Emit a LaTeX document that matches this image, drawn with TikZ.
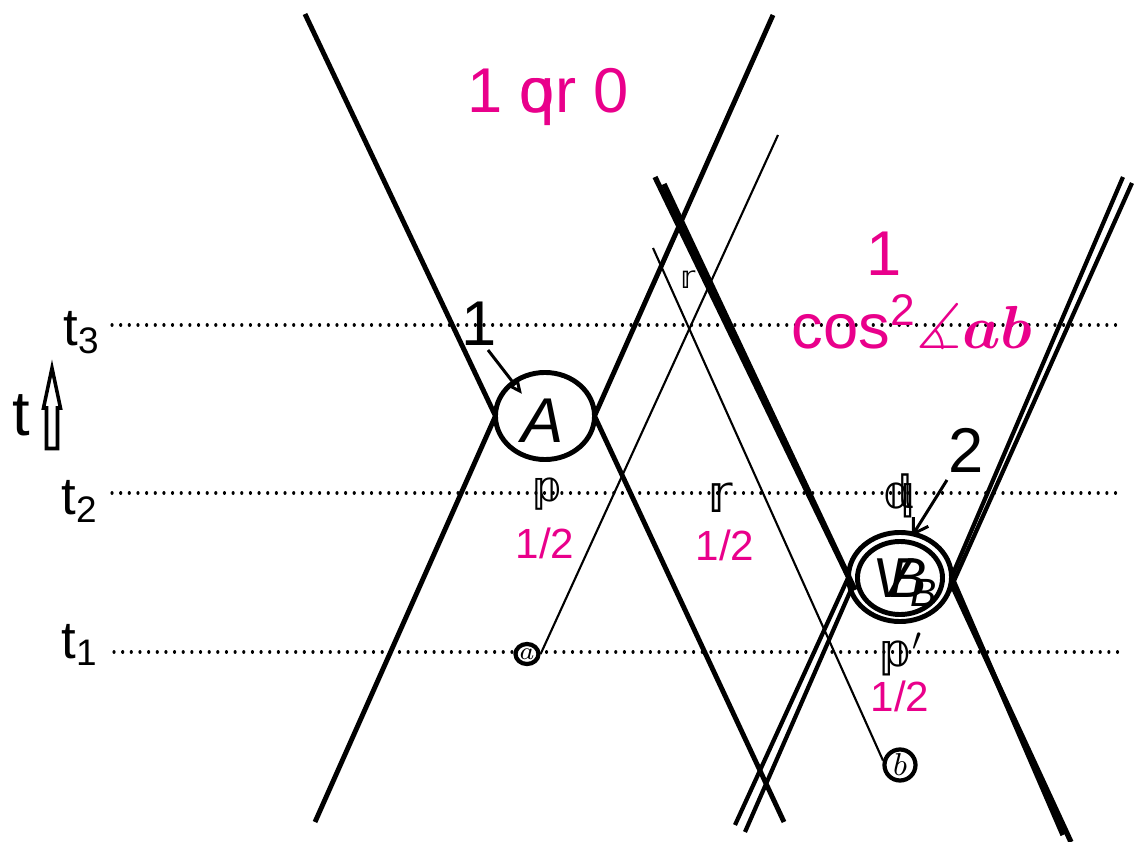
\documentclass[tikz,border=0pt]{standalone}
\usepackage{amsmath}
\usepackage{amssymb}
\usepackage{bm}
\usepackage{fontspec}
\setmainfont{Liberation Sans}
\newfontfamily\dsfont{DejaVu Sans}
\usepackage{tikz}
\usetikzlibrary{shapes.geometric, arrows.meta, positioning}
\usepackage{xcolor}
\definecolor{prob}{RGB}{233,0,139}

\tikzset{
  worldline/.style={line width=1.4pt},
  heavyline/.style={line width=1.5pt},
  twinline/.style={line width=1.2pt},
  ray/.style={line width=0.6pt},
  timeline/.style={line width=0.9pt, dash pattern=on 0.01pt off 2.45pt, line cap=round},
  event/.style={ellipse, draw, line width=1.4pt, inner sep=0pt, outer sep=0pt},
  source/.style={circle, draw, line width=1.2pt, inner sep=0pt, fill=white},
  bigtxt/.style={font=\fontsize{18}{20}\selectfont, anchor=base, inner sep=0pt},
  timetxt/.style={font=\fontsize{15}{17}\selectfont, anchor=base, inner sep=0pt},
  half/.style={text=prob, font=\fontsize{12}{14}\selectfont, anchor=base, inner sep=0pt},
  chan/.style={anchor=base, inner sep=0pt},
  pointer/.style={line width=0.85pt}
}

\begin{document}
\begin{tikzpicture}[x=0.01cm, y=-0.01cm]
    \useasboundingbox (0,0) rectangle (1144,842);

    % time slices
    \draw[timeline] (112,325) -- (1118,325);
    \draw[timeline] (112,493) -- (1118,493);
    \draw[timeline] (114,652) -- (1118,652);
    \node[timetxt] (t3) at (82,345) {t\textsubscript{3}};
    \node[timetxt] (t2) at (80,514) {t\textsubscript{2}};
    \node[timetxt] (t1) at (80,658) {t\textsubscript{1}};

    % time arrow
    \node[bigtxt] (tt) at (21,435) {t};
    \draw[line width=1pt] (46.5,448.5) -- (46.5,408) -- (43.5,408) -- (52,368) -- (60.5,408) -- (57.5,408) -- (57.5,448.5) -- cycle;

    % sources a and b
    \node[source, minimum width=0.23cm, minimum height=0.2cm, ellipse] (a) at (527,654) {\fontsize{7}{7}\selectfont$a$};
    \node[source, minimum size=0.31cm] (b) at (900,765) {\fontsize{9.5}{9.5}\selectfont$b$};
    \draw[ray] (a.east) -- (778,135);
    \draw[ray] (653,248) -- (b.165);

    % measurement events
    \node[event, fill=white, minimum width=0.99cm, minimum height=0.87cm] (A) at (545,416) {};
    \node[bigtxt] at (543,442) {\itshape A};
    \node[event, minimum width=1.03cm, minimum height=0.89cm] (Bout) at (900,577) {};
    \node[event, fill=white, minimum width=0.85cm, minimum height=0.73cm] (B) at (900,578) {};
    \node[bigtxt, font=\fontsize{16}{18}\selectfont] at (900,597) {\itshape\rlap{V\textsubscript{B}}\hspace{0.3em}B};

    % light cones of A
    \draw[worldline] (305,14) -- (A.west);
    \draw[worldline] (A.east) -- (784,822);
    \draw[worldline] (773,15) -- (A.east);
    \draw[worldline] (A.west) -- (315,822);

    % light cones of B
    \draw[heavyline] (655,177) -- (Bout.west);
    \draw[heavyline] (664,184) -- (855,590);
    \draw[heavyline] (Bout.east) -- (1063,835);
    \draw[heavyline] (953,587) -- (1071,842);
    \draw[twinline] (1123,177) -- (Bout.east);
    \draw[twinline] (1132,183) -- (949,592);
    \draw[twinline] (Bout.west) -- (735,825);
    \draw[twinline] (Bout.195) -- (745,832);

    % pointers
    \node[bigtxt] (n1) at (479,345) {1};
    \node[bigtxt] (n2) at (966,472) {2};
    \coordinate (tipA) at (522,394);
    \coordinate (tipB) at (912,536);
    \draw[pointer, -{Triangle[open, length=4pt, width=3.4pt]}] (488,350) -- (tipA);
    \draw[pointer, -{Straight Barb[length=4pt, width=5pt]}] (947,480) -- (tipB);

    % channel labels
    \node[chan, font=\dsfont\fontsize{12}{12}\selectfont] (p) at (548,501) {𝕡};
    \node[chan, font=\dsfont\fontsize{15}{15}\selectfont] (r) at (720,512) {𝕣};
    \node[chan, font=\dsfont\fontsize{9}{9}\selectfont] (rs) at (688,288) {𝕣};
    \node[chan, font=\dsfont\fontsize{13}{13}\selectfont] (q) at (898,508) {\rlap{𝕢}\kern0.3em𝕝};
    \node[chan, font=\dsfont\fontsize{13}{13}\selectfont] (pp) at (902,666) {𝕡$'$};

    % probabilities
    \node[half] at (545,558) {1/2};
    \node[half] at (725,560) {1/2};
    \node[half] at (900,711) {1/2};
    \node[bigtxt, text=prob] (res) at (548,112) {1 \rlap{q}or 0};
    \node[bigtxt, text=prob] at (884,275) {1};
    \node[bigtxt, text=prob] at (912,348) {cos\textsuperscript{2}$\measuredangle\bm{ab}$};

\end{tikzpicture}
\end{document}
